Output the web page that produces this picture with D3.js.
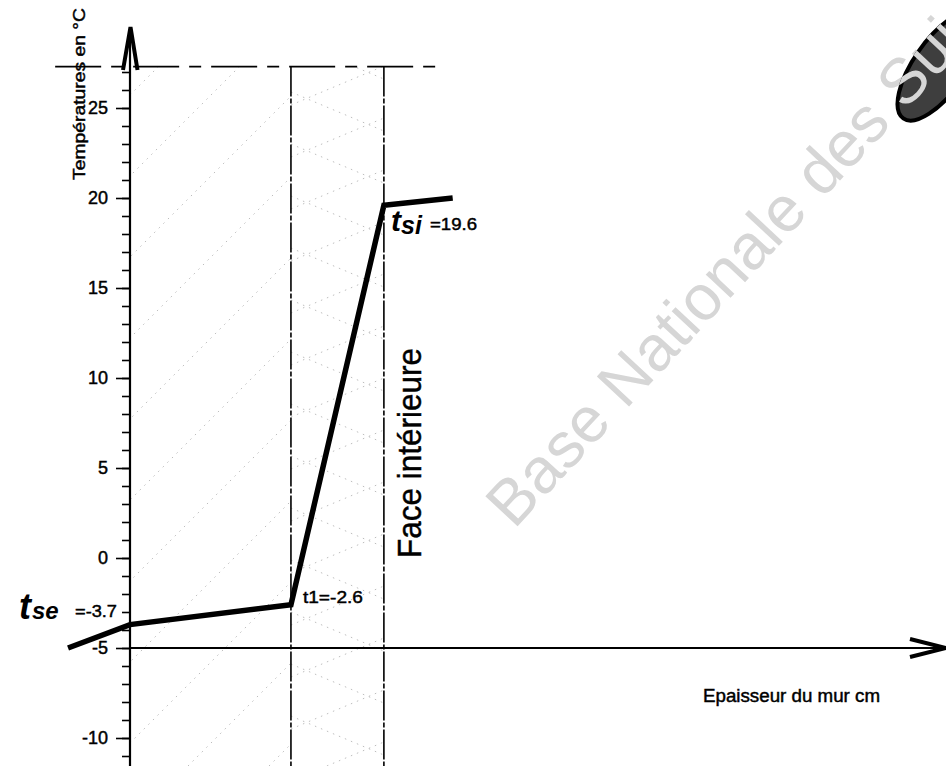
<!DOCTYPE html>
<html>
<head>
<meta charset="utf-8">
<script src="https://cdn.jsdelivr.net/npm/d3@7"></script>
<style>
  html, body { margin: 0; padding: 0; background: #fff; }
  svg { display: block; }
</style>
</head>
<body>
<div id="chart"></div>
<script>
const width = 946;
const height = 766;

// wall layers, thickness in cm
const layerNames = ['mur', 'isolant'];
const layerStart = [0, 20];
const layerEnd = [20, 31.55];

// temperature profile through the wall
const profileX = [-7.7, 0, 20, 31.55, 40.1];
const profileT = [-5, -3.7, -2.6, 19.6, 20];

// y axis ticks
const majorTicks = [-10, -5, 0, 5, 10, 15, 20, 25];
const minorTicks = [-11, -10, -9, -8, -7, -6, -5, -4, -3, -2, -1, 0, 1, 2, 3, 4, 5, 6, 7, 8,
  9, 10, 11, 12, 13, 14, 15, 16, 17, 18, 19, 20, 21, 22, 23, 24, 25, 26, 27];

// frame (dashed top line) limits
const frameLeft = -9.3;
const frameRight = 39.1;
const frameTop = 27.3;

const font = '"Liberation Sans", Arial, sans-serif';

const xScale = d3.scaleLinear().domain([0, 101.4]).range([130, 946]);
const yScale = d3.scaleLinear().domain([-5, 25]).range([648, 108]);

const svg = d3.select('#chart')
  .append('svg')
  .attr('width', width)
  .attr('height', height)
  .attr('font-family', font);

const defs = svg.append('defs');

// watermark first, everything else drawn over it
svg.append('text')
  .attr('transform', 'translate(514,530) rotate(-47)')
  .attr('font-size', 64)
  .attr('fill', '#d6d6d6')
  .text("Base Nationale des Sujets d'Examens");

// faint hatching of the wall layers
layerNames.forEach((name, i) => {
  defs.append('clipPath')
    .attr('id', 'clip-' + name)
    .append('rect')
    .attr('x', xScale(layerStart[i]))
    .attr('y', yScale(frameTop))
    .attr('width', xScale(layerEnd[i]) - xScale(layerStart[i]))
    .attr('height', height - yScale(frameTop));
});

const hatch = svg.append('g')
  .attr('stroke', '#bdbdbd')
  .attr('stroke-width', 1)
  .attr('stroke-dasharray', '1.5,5')
  .attr('fill', 'none');

const murG = hatch.append('g').attr('clip-path', 'url(#clip-mur)');
d3.range(225, 1100, 81).forEach(c => {
  murG.append('line')
    .attr('x1', c - height).attr('y1', height)
    .attr('x2', c).attr('y2', 0);
});

const isoG = hatch.append('g').attr('clip-path', 'url(#clip-isolant)');
const x0 = xScale(layerStart[1]);
const x1 = xScale(layerEnd[1]);
d3.range(40, height + 40, 52).forEach(b => {
  isoG.append('line')
    .attr('x1', x0).attr('y1', b)
    .attr('x2', x1).attr('y2', b + 0.42 * (x1 - x0));
  isoG.append('line')
    .attr('x1', x0).attr('y1', b + 26 + 0.42 * (x1 - x0))
    .attr('x2', x1).attr('y2', b + 26);
});

// dashed top frame line
svg.append('line')
  .attr('x1', xScale(frameLeft)).attr('x2', xScale(frameRight))
  .attr('y1', yScale(frameTop)).attr('y2', yScale(frameTop))
  .attr('stroke', '#000')
  .attr('stroke-width', 1.8)
  .attr('stroke-dasharray', '46,10,12,10');

// layer boundaries
svg.selectAll('.layer-line')
  .data(layerEnd)
  .enter()
  .append('line')
  .attr('class', 'layer-line')
  .attr('x1', d => xScale(d)).attr('x2', d => xScale(d))
  .attr('y1', yScale(frameTop)).attr('y2', height)
  .attr('stroke', '#000')
  .attr('stroke-width', 1.6)
  .attr('stroke-dasharray', '30,2,5,2');

// y axis
const yAxisMinor = d3.axisLeft(yScale)
  .tickValues(minorTicks)
  .tickSize(8)
  .tickFormat('');
const yAxisMajor = d3.axisLeft(yScale)
  .tickValues(majorTicks)
  .tickSize(14)
  .tickPadding(8)
  .tickFormat(d => String(d));

svg.append('g')
  .attr('transform', `translate(${xScale(0)},0)`)
  .call(yAxisMinor)
  .call(g => g.select('.domain').remove())
  .call(g => g.selectAll('line').attr('stroke', '#000').attr('stroke-width', 1.6));

svg.append('g')
  .attr('transform', `translate(${xScale(0)},0)`)
  .call(yAxisMajor)
  .attr('font-family', font)
  .attr('font-size', 18)
  .call(g => g.select('.domain').remove())
  .call(g => g.selectAll('line').attr('stroke', '#000').attr('stroke-width', 1.6))
  .call(g => g.selectAll('text')
    .attr('fill', '#000')
    .attr('stroke', '#000')
    .attr('stroke-width', 0.45));

// axis lines with arrows
svg.append('line')
  .attr('x1', xScale(0)).attr('x2', xScale(0))
  .attr('y1', 30).attr('y2', height)
  .attr('stroke', '#000').attr('stroke-width', 2.2);
svg.append('path')
  .attr('d', `M${xScale(0) - 7},70 L${xScale(0) + 0.5},27 L${xScale(0) + 7.5},70`)
  .attr('fill', 'none').attr('stroke', '#000').attr('stroke-width', 4);

svg.append('line')
  .attr('x1', xScale(0)).attr('x2', width)
  .attr('y1', yScale(-5)).attr('y2', yScale(-5))
  .attr('stroke', '#000').attr('stroke-width', 2);
svg.append('path')
  .attr('d', `M910,${yScale(-5) - 9} L946,${yScale(-5)} L910,${yScale(-5) + 9}`)
  .attr('fill', 'none').attr('stroke', '#000').attr('stroke-width', 4);

// temperature profile
const profile = profileX.map((x, i) => ({ x: x, t: profileT[i] }));
svg.append('path')
  .datum(profile)
  .attr('d', d3.line().x(d => xScale(d.x)).y(d => yScale(d.t)))
  .attr('fill', 'none')
  .attr('stroke', '#000')
  .attr('stroke-width', 5.5)
  .attr('stroke-linejoin', 'miter');

// dark text with a touch of ink spread, like the printed original
function inkText(parent, size, len) {
  return parent.append('text')
    .attr('font-size', size)
    .attr('fill', '#000')
    .attr('stroke', '#000')
    .attr('stroke-width', 0.45)
    .attr('textLength', len)
    .attr('lengthAdjust', 'spacingAndGlyphs');
}

// axis titles
inkText(svg, 17, 172)
  .attr('transform', 'translate(85,180) rotate(-90)')
  .text('Températures en °C');

inkText(svg, 18, 177)
  .attr('x', 703).attr('y', 702)
  .text('Epaisseur du mur cm');

inkText(svg, 33, 210)
  .attr('transform', `translate(${xScale(layerEnd[1]) + 37},558) rotate(-90)`)
  .text('Face intérieure');

// point labels
inkText(svg, 17, 60)
  .attr('x', xScale(layerEnd[0]) + 12).attr('y', yScale(profileT[2]) - 2)
  .text('t1=' + profileT[2]);

inkText(svg, 17, 42)
  .attr('x', 75).attr('y', 617)
  .text('=' + profileT[1]);

inkText(svg, 17, 47)
  .attr('x', 430).attr('y', 230)
  .text('=' + profileT[3]);

// handwritten symbols
const tse = svg.append('text')
  .attr('x', 19).attr('y', 619)
  .attr('fill', '#000')
  .attr('font-family', font)
  .attr('font-style', 'italic')
  .attr('font-weight', 'bold');
tse.append('tspan').attr('font-size', 36).text('t');
tse.append('tspan').attr('font-size', 24).attr('dx', 1).text('se');

const tsi = svg.append('text')
  .attr('x', 391).attr('y', 231)
  .attr('fill', '#000')
  .attr('font-family', font)
  .attr('font-style', 'italic')
  .attr('font-weight', 'bold');
tsi.append('tspan').attr('font-size', 30).text('t');
tsi.append('tspan').attr('font-size', 25).attr('dy', 3).text('si');

// logo in the corner, with the watermark letters over it
svg.append('ellipse')
  .attr('transform', 'translate(940,66) rotate(-55)')
  .attr('rx', 64).attr('ry', 26)
  .attr('fill', '#3e3e3e')
  .attr('stroke', '#000')
  .attr('stroke-width', 4);

svg.append('text')
  .attr('transform', 'translate(514,530) rotate(-47)')
  .attr('font-size', 64)
  .attr('fill', '#d6d6d6')
  .attr('clip-path', 'url(#clip-logo)')
  .text("Base Nationale des Sujets d'Examens");

defs.append('clipPath')
  .attr('id', 'clip-logo')
  .attr('clipPathUnits', 'userSpaceOnUse')
  .append('ellipse')
  .attr('transform', 'rotate(47) translate(-514,-530) translate(940,66) rotate(-55)')
  .attr('rx', 66).attr('ry', 28);
</script>
</body>
</html>
